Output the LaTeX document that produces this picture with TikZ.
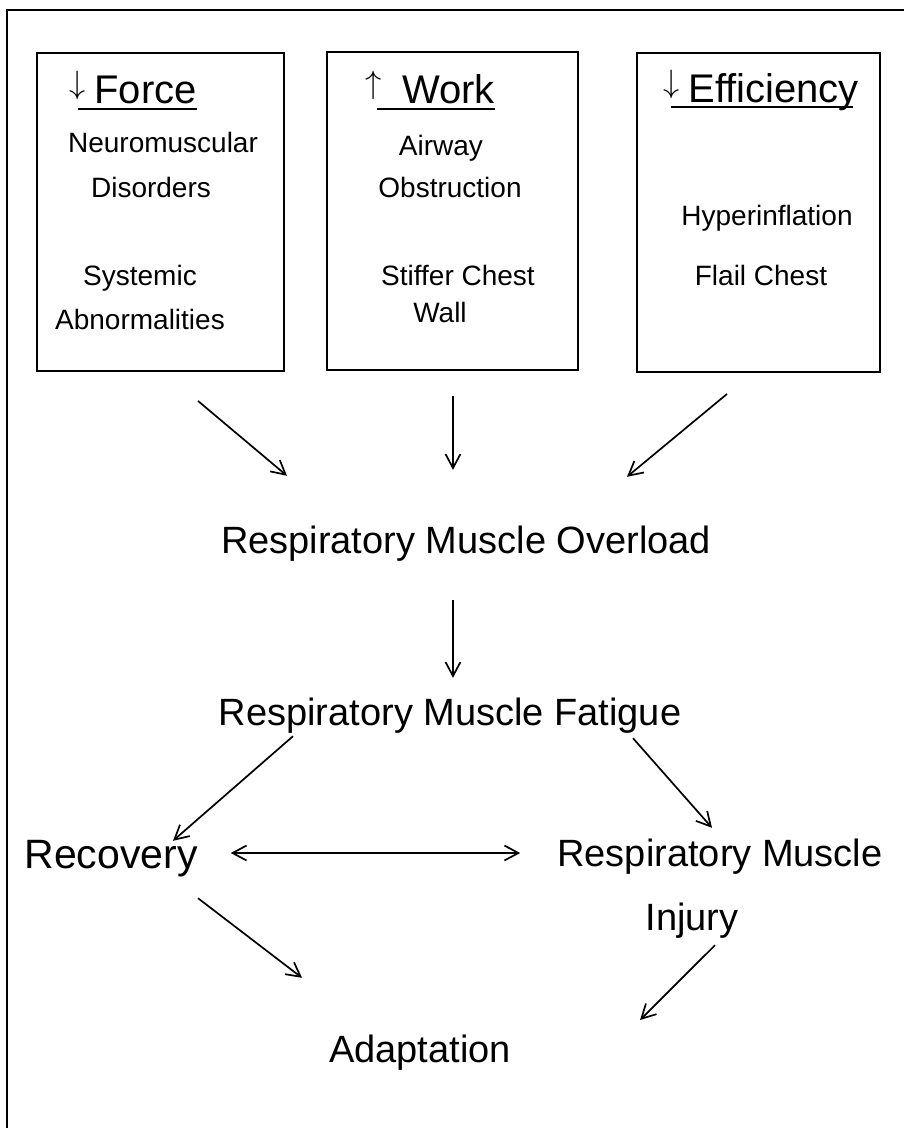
\documentclass[tikz,border=0pt]{standalone}
\usepackage{fontspec}
\setmainfont{Liberation Sans}
\usetikzlibrary{arrows.meta}
\begin{document}
\begin{tikzpicture}[x=1pt,y=-1pt,
  frame/.style={line width=1.8pt},
  catbox/.style={draw,line width=1.9pt,inner sep=0pt},
  small/.style={font=\fontsize{28}{30}\selectfont,inner sep=0pt,anchor=base},
  big/.style={font=\fontsize{38}{40}\selectfont,inner sep=0pt,anchor=base,text height=28pt,text depth=8pt},
  ttl/.style={font=\fontsize{40}{42}\selectfont,inner sep=0pt,anchor=base west},
  uline/.style={line width=1.8pt},
  tip/.tip={Straight Barb[length=14pt,width=15pt]},
  conn/.style={line width=1.7pt,-tip},
  biconn/.style={line width=1.7pt,tip-tip},
]
\newcommand{\dnarr}{\raisebox{10pt}{\scalebox{1.3}{$\downarrow$}}}
\newcommand{\uparr}{\raisebox{10pt}{\scalebox{1.3}{$\uparrow$}}}
\useasboundingbox (0,0) rectangle (904,1128);
\draw[frame] (7,1128) -- (7,10) -- (904,10);

% category boxes
\node[catbox,minimum width=247pt,minimum height=318pt] (b1) at (160.5,212) {};
\node[catbox,minimum width=251pt,minimum height=318pt] (b2) at (452.5,211) {};
\node[catbox,minimum width=243pt,minimum height=319pt] (b3) at (758.5,212.5) {};

% titles
\node[ttl] (force) at (69,103) {\dnarr\hspace{9pt}Force};
\node[ttl] (work) at (365,103) {\uparr\hspace{21pt}Work};
\node[ttl] (eff) at (663,102) {\dnarr\hspace{9pt}Efficiency};
\draw[uline] ([xshift=9pt,yshift=-6pt]force.base west) -- ([yshift=-6pt]force.base east);
\draw[uline] ([xshift=12pt,yshift=-6pt]work.base west) -- ([yshift=-6pt]work.base east);
\draw[uline] ([xshift=8pt,yshift=-5pt]eff.base west) -- ([xshift=-6pt,yshift=-5pt]eff.base east);

% box contents
\node[small] (nm) at (163,152) {Neuromuscular};
\node[small] (dis) at (151,197) {Disorders};
\node[small] (sys) at (140,285) {Systemic};
\node[small] (abn) at (140,329) {Abnormalities};
\node[small] (air) at (441,155) {Airway};
\node[small] (obs) at (450,197) {Obstruction};
\node[small] (stc) at (458,285) {Stiffer Chest};
\node[small] (wall) at (440,322) {Wall};
\node[small] (hyp) at (767,225) {Hyperinflation};
\node[small] (fla) at (761,285) {Flail Chest};

% main nodes
\node[big] (ov) at (466,553) {Respiratory Muscle Overload};
\node[big] (fa) at (450,725) {Respiratory Muscle Fatigue};
\node[big,font=\fontsize{41}{43}\selectfont] (rec) at (111,868) {Recovery};
\node[big] (rmi) at (720,866) {Respiratory Muscle};
\node[big] (inj) at (692,930) {Injury};
\node[big] (ad) at (420,1062) {Adaptation};

% connectors
\draw[conn] ([xshift=37.5pt,yshift=-29pt]b1.south) -- ([xshift=-179pt,yshift=49pt]ov.north);
\draw[conn] ([xshift=0.5pt,yshift=-25pt]b2.south) -- ([xshift=-13pt,yshift=55pt]ov.north);
\draw[conn] ([xshift=-31.5pt,yshift=-21pt]b3.south) -- ([xshift=161pt,yshift=48pt]ov.north);
\draw[conn] ([xshift=-13pt,yshift=-39pt]ov.south) -- ([xshift=3pt,yshift=19pt]fa.north);
\draw[conn] ([xshift=-157pt,yshift=-3pt]fa.south) -- ([xshift=62pt,yshift=-1pt]rec.north);
\draw[conn] ([xshift=183pt,yshift=-5pt]fa.south) -- ([xshift=-8pt,yshift=10pt]rmi.north);
\draw[biconn] ([xshift=33pt,yshift=15pt]rec.base east) -- ([xshift=-37pt,yshift=13pt]rmi.base west);
\draw[conn] ([xshift=87pt,yshift=-22pt]rec.south) -- ([xshift=-118pt,yshift=56pt]ad.north);
\draw[conn] ([xshift=23pt,yshift=-7pt]inj.south) -- ([xshift=129pt,yshift=42pt]ad.base east);
\end{tikzpicture}
\end{document}
